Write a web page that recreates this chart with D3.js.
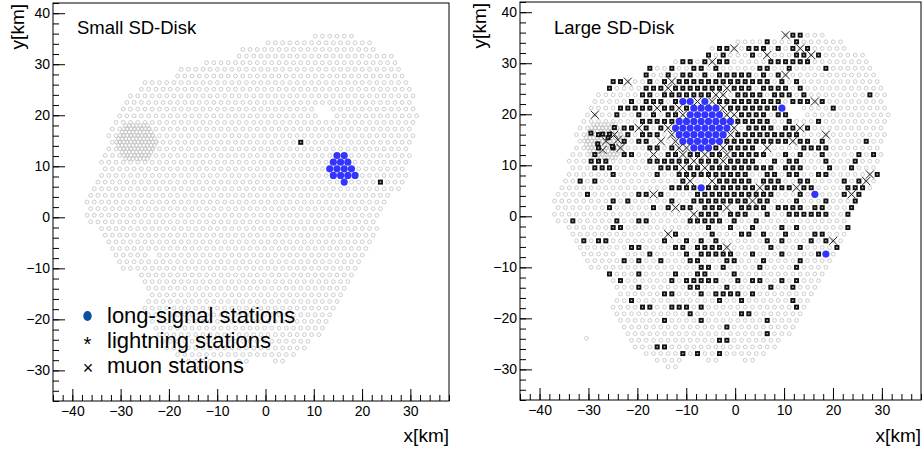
<!DOCTYPE html>
<html>
<head>
<meta charset="utf-8">
<script src="https://cdn.jsdelivr.net/npm/d3@7/dist/d3.min.js"></script>
<style>
  body { margin: 0; background: #fff; }
  text { font-family: "Liberation Sans", Arial, Helvetica, sans-serif; fill: #000; }
</style>
</head>
<body>
<div id="G"></div>
<script>
// SD grid rows, top to bottom: [first column, stations]
// o = station, s = lightning, x = muon, b = long signal, space = no station
// (the letters are the Large SD-Disk event; the Small panel only uses the grid)
var gridRows = [
  [32, "xssooo"],
  [25, "oooosooosoooooo"],
  [22, "ossxosssososxsooooo"],
  [21, "sosooosoxooossxsoooooo"],
  [17, "ossosxs" + "s" + "ooooo" + "ssssss" + "oooooooo"],
  [13, "soosoossos" + "ooooossoosoooosoooooo"],
  [13, "soosossoso" + "sssssosos" + "x" + "oooooooooooo"],
  [8,  "ssxoososxssssss" + "sssssssosos" + "ooooooooooo"],
  [8,  "soooo" + "sss" + "x" + "sssssss" + "xsssossssos" + "ooooooooooo"],
  [6,  "oooooo" + "ss" + "o" + "sssssss" + "x" + "xossssosssos" + "oooooooo" + "soo"],
  [6,  "ooooo" + "s" + "o" + "sss" + "o" + "s" + "bb" + "x" + "b" + "x" + "sssssssss" + "o" + "sss" + "x" + "s" + "oooooooo"],
  [5,  "oooo" + "sssss" + "x" + "ss" + "x" + "s" + "bbbb" + "x" + "sssssss" + "b" + "  " + "oooo" + "s" + "ooooooo"],
  [5,  "oxoosoososossx" + "bbbbb" + "xx" + "ssss" + "o" + "ss" + "  " + "oooooooooooo"],
  [4,  "oooooooo" + "sssss" + "bbbbbbbb" + "sssss" + "oo" + "s" + "ooo" + "s" + "ooooooooo"],
  [4,  "oooooo" + "ss" + "x" + "s" + "o" + "s" + "x" + "bbbbbbbb" + "x" + "o" + "ssss" + "o" + "ss" + "x" + "s" + "oooooooooo"],
  [3,  "ooo" + "s" + "ooo" + "s" + "o" + "sss" + "o" + "x" + "bbbbbbb" + "x" + "sssssssss" + "ooo" + "x" + "oooooooo"],
  [4,  "oooooo" + "s" + "o" + "ss" + "o" + "x" + "o" + "x" + "bbbbbb" + "sssssssss" + "x" + "ss" + "o" + "s" + "ooooo" + "s" + "oo"],
  [3,  "ooo" + "s" + "o" + "s" + "x" + "ooo" + "ss" + "o" + "s" + "xx" + "bbb" + "s" + "x" + "ssss" + "o" + "x" + "oooo" + "ssss" + "ooooooo"],
  [3,  "ooo" + "s" + "ooo" + "ss" + "oo" + "x" + "o" + "ss" + "x" + "ss" + "x" + "s" + "s" + "x" + "sssss" + "oo" + "s" + "o" + "s" + "oo" + "s" + "oooo" + "s" + "o" + "s" + "o"],
  [2,  "ooo" + "sss" + "ooooo" + "ssssss" + "x" + "sss" + "x" + "ssss" + "oo" + "s" + "o" + "ss" + "ooo" + "s" + "ooo" + "s" + "ooo"],
  [3,  "ooo" + "sss" + "oooooo" + "sss" + "x" + "ss" + "x" + "s" + "ssssssss" + "o" + "sss" + "ooo" + "s" + "oo" + "s" + "ooo"],
  [2,  "oooooo" + "s" + "ooooo" + "s" + "oo" + "sssss" + "sssss" + "oo" + "ss" + "o" + "ss" + "oo" + "ss" + "ooooo" + "x" + "s"],
  [2,  "oo" + "s" + "o" + "s" + "ooooooooooo" + "s" + "x" + "oo" + "x" + "sssss" + "o" + "sss" + "oo" + "ss" + "oooo" + "s" + "o" + "s" + "x" + "o"],
  [1,  "ooooooooooooooo" + "ssss" + "b" + "ss" + "sssss" + "x" + "ssss" + "x" + "ss" + "oooo" + "sss" + "o"],
  [1,  "oooo" + "s" + "oooooo" + "ss" + "x" + "s" + "oooo" + "ssss" + "sssssss" + "ooo" + "s" + "o" + "b" + "ooo" + "s" + "x" + "s"],
  [0,  "o" + "ooooooo" + "s" + "o" + "s" + "ooooo" + "s" + "oo" + "ssss" + "ssss" + "x" + "ss" + "ooo" + "s" + "ooo" + "s" + "ooo" + "s"],
  [1,  "ooooooo" + "s" + "ooooo" + "s" + "o" + "s" + "x" + "ss" + "o" + "sss" + "x" + "o" + "ssss" + "o" + "ssss" + "o" + "ss" + "ooo" + "s"],
  [0,  "o" + "oooooooooooooooooo" + "x" + "sss" + "o" + "sss" + "oo" + "s" + "oo" + "ssssss" + "oo" + "s"],
  [1,  "oo" + "s" + "ooooo" + "s" + "oo" + "ss" + "ooooo" + "sssss" + "o" + "s" + "oo" + "s" + "oooooooooooo"],
  [2,  "oooooo" + "ss" + "ooooooooooo" + "s" + "o" + "o" + "s" + "oo" + "s" + "ooo" + "s" + "o" + "s" + "oooooo" + "s"],
  [3,  "ooooooooooooo" + "x" + "s" + "oooo" + "s" + "o" + "oo" + "ss" + "o" + "s" + "oo" + "s" + "ooo" + "ss" + "ooo"],
  [3,  "osos" + "sooo" + "oooo" + "soos" + "osos" + "oooo" + "ooso" + "sooo" + "sosx" + "o"],
  [4,  "ooooooo" + "ss" + "oooo" + "ss" + "o" + "ssss" + "x" + "ooooo" + "s" + "ooo" + "s" + "oooo" + "s"],
  [4,  "ooooo" + " " + "ooo" + "s" + "oooo" + "s" + "o" + "sssss" + "oo" + "s" + "ooo" + "s" + "oooo" + "s" + "b" + "o"],
  [5,  "ooooo" + "s" + "o" + "s" + "oo" + "s" + "ooo" + "ss" + "ooo" + "ss" + "ooo" + "s" + "oooo" + "s" + "oooo"],
  [5,  "ooooooooooooooo" + "ss" + "o" + "s" + "oooo" + "s" + "oooo" + "s" + "oooo"],
  [8,  "s" + "ooo" + "s" + "oooo" + "s" + "oo" + "ss" + "ooo" + "s" + "oooooooooooo"],
  [8,  "o" + "s" + "oooooo" + "s" + "o" + "sssss" + "oo" + "s" + "o" + "ss" + "oo" + "s" + "o" + "s" + "ooo"],
  [9,  "ooo" + "s" + "oooooo" + "ss" + "ooo" + "s" + "ooooo" + "s" + "oo" + "s" + "ooo"],
  [9,  "oooooo" + "ss" + "ooo" + "s" + "o" + "ssss" + "o" + "s" + "oooooooo"],
  [9,  "oo" + "s" + "ooooooooooo" + "s" + "oo" + "s" + "oooooo" + "s" + "oo"],
  [8,  "oooo" + "ss" + "oo" + "sss" + "o" + "s" + "oooooooooooo" + "s" + "o"],
  [9,  "oooooooooo" + "s" + "oooooo" + "ss" + "ooooooo"],
  [9,  "oooooo" + "s" + "oooo" + "s" + "oooooooo" + "s" + "oooo"],
  [10, "oooooooooooooo" + "s" + "ooooooooo"],
  [10, "ooooooooooooooooooo" + "s" + "ooo"],
  [11, "oooooooooooo" + "ss" + "ooooooo"],
  [11, "ooo" + "ss" + "ooooooooooooooo"],
  [13, "ooooo" + "s" + "o" + "s" + "oo" + "s" + "oooooo"],
  [14, "oooo   oo   oo"],
  [16, "oo"]
];
// lone station off the grid, km
var extraStations = [[-30.4, -23.9]];
// infill array rows (km): [y, first x, count], 750 m spacing
var infillRows = [
  [18.0, -28.95, 7], [17.35, -29.33, 8], [16.7, -29.7, 9], [16.05, -30.08, 10],
  [15.4, -30.45, 11], [14.75, -30.83, 12], [14.1, -30.45, 11], [13.45, -30.08, 10],
  [12.8, -29.7, 9], [12.15, -29.33, 8], [11.5, -28.95, 7]
];
// Large SD-Disk infill stations with signals (km)
var infillLightning = [[-24.7, 17.4], [-27.1, 16.1], [-25.7, 16.1], [-28.1, 14.2], [-25.1, 13.7], [-29.5, 16.3], [-26.0, 15.4]];
var infillMuon = [[-24.7, 16.0], [-26.4, 14.7], [-24.0, 15.0], [-27.1, 13.0]];

// Small SD-Disk markers: [row, column]
var smallLong = [[18,35],[18,36],[19,34],[19,35],[19,36],[20,34],[20,35],[20,36],[20,37],
                 [21,34],[21,35],[21,36],[21,37],[22,36]];
var smallLightning = [[16,30],[22,41]];

var xTicks = [-40, -30, -20, -10, 0, 10, 20, 30];
var yTicks = [-30, -20, -10, 0, 10, 20, 30, 40];
var legendItems = ["long-signal stations", "lightning stations", "muon stations"];

var W = 924, H = 452;
var svg = d3.select("#G").append("svg").attr("width", W).attr("height", H);

function pos(k, c) {
  return [-37.7 + 1.5 * c + (k % 2 ? 0.75 : 0), 35.5 - 1.3 * k];
}

var grid = [], large = { s: [], x: [], b: [] };
gridRows.forEach(function (r, k) {
  r[1].split("").forEach(function (ch, i) {
    if (ch == " ") return;
    var p = pos(k, r[0] + i);
    grid.push(p);
    if (large[ch]) large[ch].push(p);
  });
});
extraStations.forEach(function (p) { grid.push(p); });
var infill = [];
infillRows.forEach(function (r) {
  for (var i = 0; i < r[2]; i++) infill.push([r[1] + 0.75 * i, r[0]]);
});

function fmt(d) { return d < 0 ? "\u2212" + (-d) : "" + d; }

function Panel(o) {
  var x = d3.scaleLinear().domain([-44, 38]).range([o.left, o.right]);
  var y = d3.scaleLinear().domain([-36, 42]).range([o.bottom, o.top]);
  var g = svg.append("g");

  g.append("g").selectAll("circle").data(grid.concat(infill)).join("circle")
    .attr("cx", d => x(d[0])).attr("cy", d => y(d[1])).attr("r", 1.9)
    .attr("fill", "none").attr("stroke", "#c6c6c6").attr("stroke-width", 0.9);

  g.append("g").selectAll("circle").data(o.long).join("circle")
    .attr("cx", d => x(d[0])).attr("cy", d => y(d[1])).attr("r", 3.6)
    .attr("fill", "#3434ff");

  var st = g.append("g").selectAll("g").data(o.lightning).join("g")
    .attr("transform", d => "translate(" + x(d[0]) + "," + y(d[1]) + ")");
  st.append("rect").attr("x", -2.5).attr("y", -2.5).attr("width", 5).attr("height", 5).attr("fill", "#111");
  st.append("rect").attr("x", -0.7).attr("y", -0.7).attr("width", 1.4).attr("height", 1.4).attr("fill", "#bbb");

  g.append("g").selectAll("path").data(o.muon).join("path")
    .attr("d", d => { var a = x(d[0]), b = y(d[1]), s = 4;
      return "M" + (a - s) + "," + (b - s) + "L" + (a + s) + "," + (b + s) +
             "M" + (a - s) + "," + (b + s) + "L" + (a + s) + "," + (b - s); })
    .attr("stroke", "#222").attr("stroke-width", 1).attr("fill", "none");

  // frame
  g.append("rect").attr("x", o.left).attr("y", o.top)
    .attr("width", o.right - o.left).attr("height", o.bottom - o.top)
    .attr("fill", "none").attr("stroke", "#000").attr("stroke-width", 1);

  // axes, ticks inside the frame
  g.append("g").attr("transform", "translate(0," + o.bottom + ")")
    .call(d3.axisBottom(x).tickValues(d3.range(-44, 39, 2)).tickSize(-6).tickFormat(""))
    .call(a => a.select(".domain").remove());
  g.append("g").attr("transform", "translate(0," + o.bottom + ")")
    .call(d3.axisBottom(x).tickValues(xTicks).tickSize(-12).tickPadding(5).tickFormat(fmt))
    .call(a => a.select(".domain").remove())
    .call(a => a.selectAll("text").attr("font-size", 14).style("font-family", "Liberation Sans, Arial, sans-serif"));
  g.append("g").attr("transform", "translate(" + o.left + ",0)")
    .call(d3.axisLeft(y).tickValues(d3.range(-36, 43, 2)).tickSize(-6).tickFormat(""))
    .call(a => a.select(".domain").remove());
  g.append("g").attr("transform", "translate(" + o.left + ",0)")
    .call(d3.axisLeft(y).tickValues(yTicks).tickSize(-12).tickPadding(3).tickFormat(fmt))
    .call(a => a.select(".domain").remove())
    .call(a => a.selectAll("text").attr("font-size", 14).style("font-family", "Liberation Sans, Arial, sans-serif"));

  g.append("text").attr("x", o.right).attr("y", 442).attr("text-anchor", "end")
    .attr("font-size", 19).text("x[km]");
  g.append("text").attr("transform", "translate(" + o.ytitle + "," + (o.top + 1) + ") rotate(-90)")
    .attr("text-anchor", "end").attr("font-size", 19).text("y[km]");
  g.append("text").attr("x", o.titleX).attr("y", 34).attr("font-size", 18.5).text(o.title);
}

Panel({ left: 53, right: 449, top: 3, bottom: 401, ytitle: 24, title: "Small SD-Disk", titleX: 77,
        long: smallLong.map(d => pos(d[0], d[1])), lightning: smallLightning.map(d => pos(d[0], d[1])), muon: [] });
Panel({ left: 520, right: 921, top: 2, bottom: 400, ytitle: 486, title: "Large SD-Disk", titleX: 554,
        long: large.b, lightning: large.s.concat(infillLightning), muon: large.x.concat(infillMuon) });

// legend of the small panel
var leg = svg.append("g");
leg.selectAll("text").data(legendItems).join("text")
  .attr("x", 107).attr("y", (d, i) => 323 + 25 * i).attr("font-size", 22).text(d => d);
leg.append("ellipse").attr("cx", 87.5).attr("cy", 316).attr("rx", 4.2).attr("ry", 5).attr("fill", "#0a4fa0");
leg.append("text").attr("x", 87.5).attr("y", 351).attr("text-anchor", "middle").attr("font-size", 20).text("*");
leg.append("text").attr("x", 88).attr("y", 374).attr("text-anchor", "middle").attr("font-size", 18).text("\u00d7");
</script>
</body>
</html>
